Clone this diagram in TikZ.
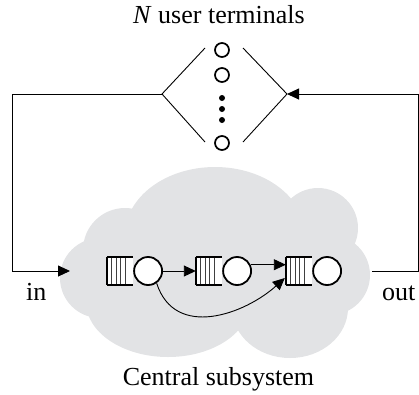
\documentclass[tikz,border=0pt]{standalone}
\usepackage{fontspec}
\setmainfont{Liberation Serif}
\usetikzlibrary{arrows.meta,calc}
\definecolor{cloudgray}{RGB}{226,227,229}
\begin{document}
\begin{tikzpicture}[x=1pt,y=-1pt,
  conn/.style={line width=0.9pt},
  arr/.style={conn,-{Triangle[length=12pt,width=11pt]}},
  term/.style={circle,draw,line width=1.7pt,minimum size=14pt,inner sep=0pt},
  tdot/.style={circle,fill,minimum size=6pt,inner sep=0pt},
  qbody/.style={rectangle,fill=white,minimum width=26pt,minimum height=28pt,inner sep=0pt},
  server/.style={circle,draw,line width=1.8pt,fill=white,minimum size=28pt,inner sep=0pt},
  lbl/.style={font=\fontsize{26}{30}\selectfont,inner sep=0pt,anchor=base}]
\useasboundingbox (0,0) rectangle (419,394);
% cloud
\fill[cloudgray] (215,235) ellipse [x radius=90, y radius=68];
\fill[cloudgray] (125,250) circle [radius=42];
\fill[cloudgray] (318,228) circle [radius=40];
\fill[cloudgray] (330,275) circle [radius=40];
\fill[cloudgray] (290,308) ellipse [x radius=58, y radius=50];
\fill[cloudgray] (168,302) ellipse [x radius=82, y radius=55];
\fill[cloudgray] (100,278) circle [radius=40];
\fill[cloudgray] (215,270) ellipse [x radius=115, y radius=62];
% labels
\node[lbl] (ttl) at (219,23) {\textit{N} user terminals};
\node[lbl] (cs) at (218.5,385) {Central subsystem};
\node[lbl,anchor=base west] (inl) at (26,300) {in};
\node[lbl,anchor=base west] (outl) at (382,300) {out};
% terminals
\node[term] (t1) at (222,50) {};
\node[term] (t2) at (222,75) {};
\node[term] (t3) at (222,143) {};
\node[tdot] (d1) at (222,98) {};
\node[tdot] (d2) at (222,109) {};
\node[tdot] (d3) at (222,120) {};
\coordinate (dl) at (162,94);
\coordinate (dr) at (287,94);
\coordinate (dlu) at (205,48);
\coordinate (dld) at (205,142);
\coordinate (dru) at (243,48);
\coordinate (drd) at (243,142);
\draw[conn] (dlu) -- (dl) -- (dld);
\draw[conn] (dru) -- (dr) -- (drd);
% queues
\foreach \i/\x in {1/120,2/209,3/299}{
  \node[qbody] (q\i b) at (\x,271) {};
  \foreach \k in {4.5,9,13.5,18}{
    \draw[line width=0.6pt,black!75] ($(q\i b.north west)+(\k,0)$) -- ($(q\i b.south west)+(\k,0)$);
  }
  \draw[line width=1.6pt] (q\i b.north west) -- (q\i b.south west);
  \draw[line width=2pt] (q\i b.north west) -- (q\i b.north east);
  \draw[line width=2pt] (q\i b.south west) -- (q\i b.south east);
  \node[server,anchor=west] (s\i) at (q\i b.east) {};
}
% connectors
\coordinate (lc) at (12,94);
\coordinate (inp) at (70,271);
\coordinate (outp) at (372,271);
\coordinate (rc) at (418.5,271);
\draw[arr] (dl) -- (lc) |- (inp);
\draw[arr] (outp) -- (rc) |- (dr);
\draw[arr] (s1.east) -- (q2b.west);
\draw[arr] (s2.25) -- (s2.25 -| q3b.west);
\coordinate (ce) at ($(q3b.west)+(-1,7)$);
\draw[arr] (s1.-55) .. controls (175,340) and (245,314) .. (ce);
\end{tikzpicture}
\end{document}
